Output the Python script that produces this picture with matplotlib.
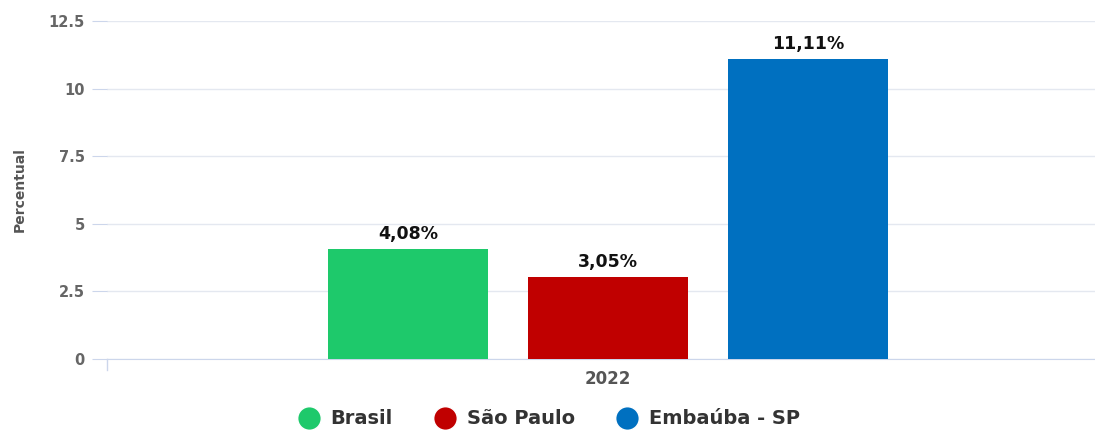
import matplotlib.pyplot as plt
from matplotlib.lines import Line2D

# chart data
year = "2022"
series = ["Brasil", "São Paulo", "Embaúba - SP"]
values = [4.08, 3.05, 11.11]
colors = ["#1ec96b", "#c00000", "#0070c0"]
yticks = [0, 2.5, 5, 7.5, 10, 12.5]
ytick_labels = ["0", "2.5", "5", "7.5", "10", "12.5"]

plt.rcParams["font.family"] = ["DejaVu Sans"]

fig = plt.figure(figsize=(10.95, 4.30), dpi=100)
ax = fig.add_axes([107 / 1095, 1 - 359 / 430, (1095 - 107) / 1095, (359 - 21) / 430])

offsets = [-0.2, 0.0, 0.2]
width = 0.16
for off, val, col in zip(offsets, values, colors):
    ax.bar(off, val, width=width, color=col, zorder=3)
    ax.text(off, val + 0.2, f"{val:.2f}".replace(".", ",") + "%",
            ha="center", va="bottom", fontsize=12.5, fontweight="bold", color="#111111")

ax.set_xlim(-0.501, 0.487)
ax.set_ylim(0, 12.5)
ax.set_yticks(yticks)
ax.set_yticklabels(ytick_labels)
ax.set_xticks([0])
ax.set_xticklabels([year])

ax.grid(axis="y", color="#e4e8f0", linewidth=1, zorder=0)
for s in ["top", "right", "left"]:
    ax.spines[s].set_visible(False)
ax.spines["bottom"].set_color("#ccd6eb")
ax.tick_params(axis="y", length=11, color="#ccd6eb", labelsize=10.5, labelcolor="#666666", pad=5)
ax.tick_params(axis="x", length=0, labelsize=12, labelcolor="#555555", pad=8)
for t in ax.get_yticklabels() + ax.get_xticklabels():
    t.set_fontweight("bold")
# left tick below the x axis
ax.plot([-0.501, -0.501], [0, -0.4], color="#ccd6eb", lw=1, clip_on=False)

fig.text(20 / 1095, 1 - 190 / 430, "Percentual", rotation=90, ha="center", va="center",
         fontsize=10, fontweight="bold", color="#555555")

handles = [Line2D([0], [0], marker="o", color="w", markerfacecolor=c, markersize=17, lw=0)
           for c in colors]
leg = fig.legend(handles, series, loc="center", bbox_to_anchor=(0.5, 1 - 419 / 430), ncol=3,
                 frameon=False, handletextpad=0.4, columnspacing=2.0, handlelength=1.4,
                 prop={"size": 14, "weight": "bold"})
for t in leg.get_texts():
    t.set_color("#333333")

fig.savefig("out.png", dpi=100)
